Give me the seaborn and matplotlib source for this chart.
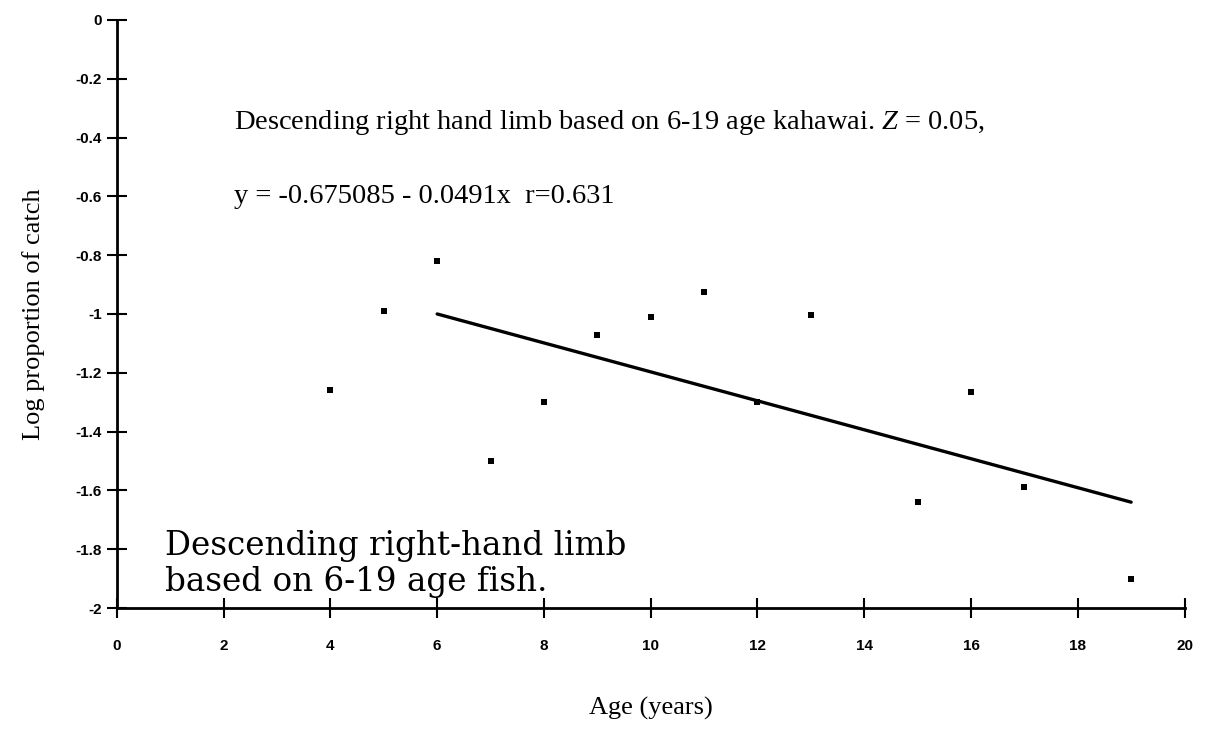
import numpy as np
import pandas as pd
import matplotlib.pyplot as plt
import seaborn as sns

sns.set_theme(style="ticks")
plt.rcParams['font.family'] = ['Liberation Serif', 'DejaVu Serif']
plt.rcParams['mathtext.fontset'] = 'custom'
plt.rcParams['mathtext.rm'] = 'Liberation Serif'
plt.rcParams['mathtext.it'] = 'Liberation Serif:italic'
plt.rcParams['text.color'] = 'black'
plt.rcParams['axes.labelcolor'] = 'black'

# Data
age = [4, 5, 6, 7, 8, 9, 10, 11, 12, 13, 15, 16, 17, 19]
log_prop = [-1.26, -0.99, -0.82, -1.50, -1.30, -1.07, -1.01, -0.925,
            -1.30, -1.005, -1.64, -1.265, -1.59, -1.90]

# fitted line for the 6-19 age descending limb
fit_age = [6, 19]
fit_val = [-1.0, -1.64]

x_ticks = list(range(0, 21, 2))
y_ticks = [0, -0.2, -0.4, -0.6, -0.8, -1, -1.2, -1.4, -1.6, -1.8, -2]
y_tick_labels = ['0', '-0.2', '-0.4', '-0.6', '-0.8', '-1', '-1.2', '-1.4',
                 '-1.6', '-1.8', '-2']

df = pd.DataFrame({'age': age, 'log_prop': log_prop})
fit = pd.DataFrame({'age': fit_age, 'log_prop': fit_val})

fig = plt.figure(figsize=(12.05, 7.37), dpi=100)
ax = fig.add_axes([0.097, 0.175, 0.886, 0.798])

sns.scatterplot(data=df, x='age', y='log_prop', marker='s', s=20,
                color='black', edgecolor='black', linewidth=0, ax=ax)
sns.lineplot(data=fit, x='age', y='log_prop', color='black', linewidth=2.4, ax=ax)

ax.set_xlim(0, 20)
ax.set_ylim(-2, 0)
ax.set_xticks(x_ticks)
ax.set_yticks(y_ticks)
ax.set_yticklabels(y_tick_labels)
sns.despine(ax=ax)
for s in ['left', 'bottom']:
    ax.spines[s].set_linewidth(2)
    ax.spines[s].set_color('black')
ax.tick_params(axis='both', direction='inout', length=14, width=1.5, colors='black')
ax.tick_params(axis='x', pad=15)
ax.tick_params(axis='y', pad=4)
for lab in ax.get_xticklabels() + ax.get_yticklabels():
    lab.set_family(['Liberation Sans Narrow', 'Liberation Sans', 'DejaVu Sans'])
    lab.set_fontweight('bold')
    lab.set_fontsize(11)

ax.set_xlabel('Age (years)', fontsize=19, labelpad=32)
ax.set_ylabel('Log proportion of catch', fontsize=19, labelpad=22)

ax.text(2.2, -0.35, 'Descending right hand limb based on 6-19 age kahawai. $Z$ = 0.05,',
        fontsize=20.5, va='center', ha='left')
ax.text(2.2, -0.6, 'y = -0.675085 - 0.0491x  r=0.631',
        fontsize=20.5, va='center', ha='left')
ax.text(0.9, -1.85, 'Descending right-hand limb\nbased on 6-19 age fish.',
        fontsize=23.5, va='center', ha='left', linespacing=1.15,
        family=['DejaVu Serif'])

fig.savefig('out.png', dpi=100)
